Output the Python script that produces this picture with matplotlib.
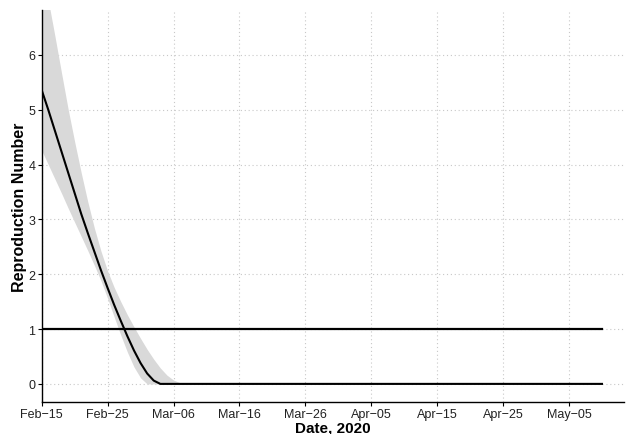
import numpy as np
import pandas as pd
import matplotlib
matplotlib.use("Agg")
import matplotlib.pyplot as plt

plt.rcParams['font.family'] = ['Liberation Sans', 'DejaVu Sans']

# Data: daily estimates from 2020-02-15
start_date = "2020-02-15"
end_date = "2020-05-10"
r_head = [5.36, 5.00, 4.62, 4.24, 3.86, 3.48, 3.10, 2.75, 2.41, 2.07,
          1.75, 1.44, 1.15, 0.87, 0.61, 0.38, 0.19, 0.06, 0.0]
upper_head = [7.66, 7.00, 6.35, 5.68, 5.02, 4.42, 3.85, 3.32, 2.84, 2.42,
              2.06, 1.76, 1.50, 1.26, 1.04, 0.83, 0.63, 0.45, 0.29, 0.16,
              0.07, 0.02, 0.0]
lower_head = [4.26, 4.00, 3.74, 3.48, 3.21, 2.95, 2.69, 2.43, 2.16, 1.88,
              1.56, 1.22, 0.89, 0.58, 0.31, 0.11, 0.0]
threshold = 1.0

dates = pd.date_range(start_date, end_date, freq="D")
n = len(dates)
def pad(a):
    return np.array(list(a) + [0.0] * (n - len(a)))
r = pad(r_head)
upper = pad(upper_head)
lower = pad(lower_head)

fig = plt.figure(figsize=(6.26, 4.35), dpi=100)
ax = fig.add_axes([0.0666, 0.0736, 0.931, 0.901])

ax.fill_between(dates, lower, upper, color="#d9d9d9", linewidth=0, zorder=2)
ax.plot(dates, r, color="black", linewidth=1.5, zorder=3)
ax.plot(dates, np.full(n, threshold), color="black", linewidth=1.6, zorder=3)

ax.set_xlim(pd.Timestamp("2020-02-15"), pd.Timestamp("2020-05-13 10:00"))
ax.set_ylim(-0.33, 6.82)
ax.set_yticks(range(0, 7))

ticks = pd.date_range("2020-02-15", "2020-05-05", freq="10D")
ax.set_xticks(ticks)
ax.set_xticklabels([d.strftime("%b") + "\u2212" + d.strftime("%d") for d in ticks])

ax.grid(True, color="#c8c8c8", linestyle=(0, (1, 2.5)), linewidth=0.8, zorder=0)
ax.set_axisbelow(True)
for s in ["top", "right"]:
    ax.spines[s].set_visible(False)
for s in ["left", "bottom"]:
    ax.spines[s].set_linewidth(1.0)
ax.tick_params(axis="both", direction="out", length=3, width=0.8,
               labelsize=9, colors="black", labelcolor="#222222", pad=1.5)

ax.set_xlabel("Date, 2020", fontsize=11, fontweight="bold", labelpad=0)
ax.set_ylabel("Reproduction Number", fontsize=11.5, fontweight="bold", labelpad=1)

fig.savefig("out.png", dpi=100)
